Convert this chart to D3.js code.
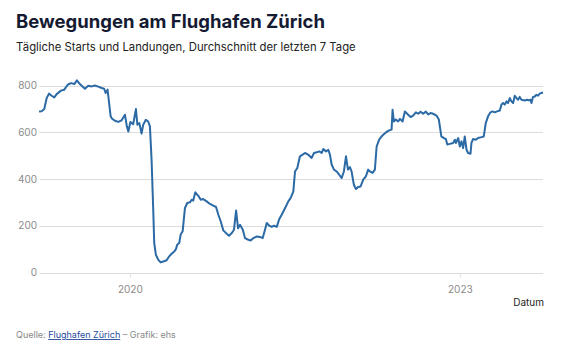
<!DOCTYPE html>
<html>
<head>
<meta charset="utf-8">
<script src="https://cdn.jsdelivr.net/npm/d3@7"></script>
<style>
  body { margin: 0; background: #fff; font-family: Inter, "Noto Sans", sans-serif; }
  .grid line { stroke: #dcdcdc; stroke-width: 1; }
  .tick-label { fill: #8a8a8a; font-size: 10px; }
</style>
</head>
<body>
<div id="chart"></div>
<script>
// decimal year of each point
const years = [
  2019.173, 2019.197, 2019.221, 2019.243, 2019.264, 2019.288, 2019.312, 2019.334, 2019.373, 2019.403,
  2019.434, 2019.464, 2019.494, 2019.518, 2019.545, 2019.591, 2019.621, 2019.652, 2019.682, 2019.712,
  2019.743, 2019.766, 2019.779, 2019.797, 2019.825, 2019.836, 2019.864, 2019.894, 2019.925, 2019.955,
  2019.973, 2019.986, 2020.005, 2020.030, 2020.055, 2020.068, 2020.086, 2020.106, 2020.121, 2020.145,
  2020.166, 2020.182, 2020.197, 2020.212, 2020.221, 2020.236, 2020.257, 2020.279, 2020.303, 2020.334,
  2020.357, 2020.379, 2020.403, 2020.418, 2020.430, 2020.448, 2020.461, 2020.479, 2020.500, 2020.521,
  2020.545, 2020.561, 2020.575, 2020.594, 2020.621, 2020.643, 2020.666, 2020.697, 2020.727, 2020.757,
  2020.782, 2020.803, 2020.825, 2020.848, 2020.879, 2020.900, 2020.925, 2020.945, 2020.964, 2020.982,
  2021.000, 2021.025, 2021.045, 2021.075, 2021.097, 2021.121, 2021.152, 2021.182, 2021.206, 2021.227,
  2021.243, 2021.266, 2021.288, 2021.309, 2021.334, 2021.357, 2021.379, 2021.394, 2021.418, 2021.439,
  2021.461, 2021.485, 2021.500, 2021.521, 2021.545, 2021.570, 2021.591, 2021.621, 2021.652, 2021.673,
  2021.697, 2021.721, 2021.743, 2021.757, 2021.782, 2021.803, 2021.818, 2021.834, 2021.855, 2021.879,
  2021.903, 2021.925, 2021.945, 2021.964, 2021.982, 2022.000, 2022.015, 2022.036, 2022.055, 2022.075,
  2022.097, 2022.121, 2022.145, 2022.166, 2022.182, 2022.206, 2022.227, 2022.243, 2022.266, 2022.288,
  2022.303, 2022.327, 2022.357, 2022.379, 2022.388, 2022.400, 2022.418, 2022.439, 2022.455, 2022.479,
  2022.500, 2022.530, 2022.552, 2022.575, 2022.600, 2022.621, 2022.643, 2022.666, 2022.691, 2022.712,
  2022.734, 2022.757, 2022.788, 2022.809, 2022.832, 2022.855, 2022.873, 2022.886, 2022.909, 2022.939,
  2022.955, 2022.964, 2022.985, 2023.000, 2023.015, 2023.030, 2023.045, 2023.061, 2023.075, 2023.097,
  2023.106, 2023.121, 2023.145, 2023.166, 2023.197, 2023.218, 2023.236, 2023.257, 2023.279, 2023.297,
  2023.318, 2023.339, 2023.364, 2023.379, 2023.394, 2023.409, 2023.425, 2023.439, 2023.455, 2023.470,
  2023.485, 2023.500, 2023.516, 2023.530, 2023.545, 2023.561, 2023.591, 2023.612, 2023.630, 2023.643,
  2023.652, 2023.666, 2023.682, 2023.697, 2023.712, 2023.727, 2023.743, 2023.757
];

// daily movements, 7-day average
const movements = [
  690, 691, 700, 747, 766, 757, 750, 764, 779, 783,
  804, 811, 807, 823, 807, 787, 800, 797, 801, 796,
  790, 787, 769, 783, 669, 660, 650, 645, 652, 676,
  625, 604, 645, 635, 700, 633, 640, 595, 633, 654,
  647, 626, 483, 270, 127, 77, 56, 44, 48, 53,
  70, 81, 91, 101, 120, 127, 163, 177, 277, 298,
  301, 312, 309, 344, 329, 312, 315, 305, 294, 287,
  281, 248, 219, 181, 167, 158, 170, 184, 266, 190,
  205, 184, 148, 141, 138, 148, 155, 153, 148, 184,
  213, 201, 196, 201, 196, 230, 248, 262, 284, 305,
  320, 348, 433, 448, 498, 505, 512, 505, 491, 512,
  515, 519, 512, 529, 519, 526, 505, 462, 441, 433,
  419, 405, 433, 498, 441, 452, 433, 376, 358, 367,
  369, 398, 412, 441, 433, 427, 441, 540, 569, 583,
  590, 600, 609, 612, 697, 647, 655, 647, 658, 647,
  690, 676, 666, 672, 686, 680, 689, 680, 689, 677,
  683, 680, 672, 655, 583, 576, 572, 548, 551, 555,
  569, 555, 576, 540, 562, 533, 583, 526, 512, 509,
  555, 572, 569, 576, 580, 583, 640, 669, 686, 690,
  686, 690, 694, 719, 726, 719, 733, 726, 747, 733,
  726, 757, 747, 740, 752, 740, 737, 740, 737, 740,
  726, 752, 754, 761, 757, 766, 769, 771
];

const yTicks = [0, 200, 400, 600, 800];
const xTickYears = [2020, 2023];

function yearToDate(y) {
  let yr = Math.floor(y);
  let start = Date.UTC(yr, 0, 1), end = Date.UTC(yr + 1, 0, 1);
  return new Date(start + (y - yr) * (end - start));
}

const data = years.map((y, i) => ({date: yearToDate(y), value: movements[i]}));

const width = 582, height = 352;
const svg = d3.select("#chart").append("svg")
  .attr("width", width)
  .attr("height", height);

// titles
svg.append("text")
  .attr("x", 16).attr("y", 28)
  .attr("fill", "#151a33")
  .style("font-size", "18.5px")
  .style("font-weight", 700)
  .text("Bewegungen am Flughafen Zürich");

svg.append("text")
  .attr("x", 16).attr("y", 51)
  .attr("fill", "#222")
  .style("font-size", "11.3px")
  .text("Tägliche Starts und Landungen, Durchschnitt der letzten 7 Tage");

const x = d3.scaleUtc()
  .domain(d3.extent(data, d => d.date))
  .range([39, 543]);

const y = d3.scaleLinear()
  .domain([0, 800])
  .range([272.7, 85.7]);

// gridlines + y labels
const grid = svg.append("g").attr("class", "grid");
grid.selectAll("line")
  .data(yTicks)
  .join("line")
  .attr("x1", 39.5).attr("x2", 543)
  .attr("y1", d => Math.round(y(d)) + 0.5)
  .attr("y2", d => Math.round(y(d)) + 0.5);

svg.append("g").selectAll("text")
  .data(yTicks)
  .join("text")
  .attr("class", "tick-label")
  .attr("x", 37)
  .attr("y", d => y(d) + 3.5)
  .attr("text-anchor", "end")
  .text(d => d);

// x axis
const xAxis = d3.axisBottom(x)
  .tickValues(xTickYears.map(yr => new Date(Date.UTC(yr, 0, 1))))
  .tickFormat(d3.utcFormat("%Y"))
  .tickSize(4)
  .tickPadding(8);

const gx = svg.append("g")
  .attr("transform", `translate(0,${Math.round(y(0)) + 0.5})`)
  .call(xAxis);
gx.select(".domain").remove();
gx.selectAll(".tick line").attr("stroke", "#dcdcdc");
gx.selectAll(".tick text")
  .attr("fill", "#8a8a8a")
  .style("font-size", "10px")
  .style("font-family", "Inter, 'Noto Sans', sans-serif");

svg.append("text")
  .attr("x", 544).attr("y", 306)
  .attr("text-anchor", "end")
  .attr("fill", "#222")
  .style("font-size", "10px")
  .text("Datum");

// line
const line = d3.line()
  .x(d => x(d.date))
  .y(d => y(d.value))
  .curve(d3.curveLinear);

svg.append("path")
  .datum(data)
  .attr("fill", "none")
  .attr("stroke", "#2b6aa5")
  .attr("stroke-width", 2)
  .attr("stroke-linejoin", "round")
  .attr("d", line);

// source
const src = svg.append("text")
  .attr("x", 16).attr("y", 338)
  .attr("fill", "#888")
  .style("font-size", "9px");
src.append("tspan").text("Quelle: ");
src.append("tspan")
  .attr("fill", "#26489a")
  .style("text-decoration", "underline")
  .text("Flughafen Zürich");
src.append("tspan").text(" – Grafik: ehs");
</script>
</body>
</html>
